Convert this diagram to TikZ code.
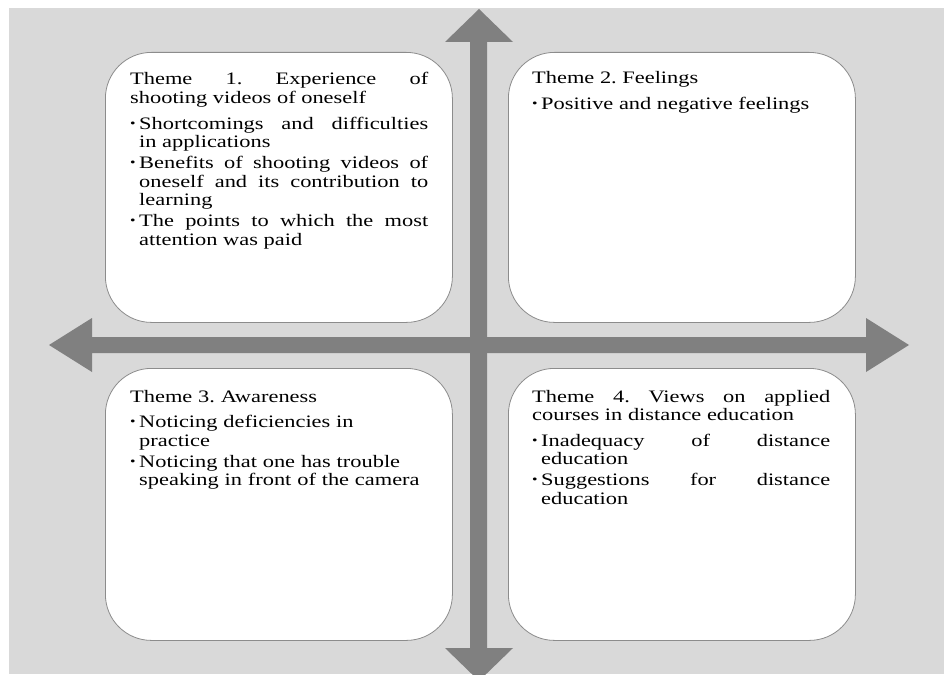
\documentclass[tikz,border=0pt]{standalone}
\usepackage{fontspec}
\setmainfont{Liberation Serif}
\newfontfamily\themefont[FakeStretch=1.28]{Liberation Serif}
\definecolor{bggray}{HTML}{D9D9D9}
\definecolor{arrowgray}{HTML}{808080}
\definecolor{edgegray}{HTML}{8C8C8C}
\frenchspacing
\newcommand{\bulitem}[2][2.5pt]{\par\vspace{#1}\noindent\hangindent=9pt\hangafter=1\makebox[9pt][l]{\raisebox{0.1em}{\scalebox{0.7}{•}}}#2\par}
\tikzset{
  themebox/.style={draw=edgegray, line width=0.8pt, fill=white, rounded corners=46pt,
    minimum width=347pt, inner sep=0pt, anchor=north west},
  themetext/.style={anchor=base west, text width=298pt, inner sep=0pt, align=justify,
    font=\themefont\frenchspacing\fontsize{17.5pt}{18.5pt}\selectfont},
  arrowfill/.style={fill=arrowgray}
}
\begin{document}
\begin{tikzpicture}[x=1pt,y=-1pt]
\useasboundingbox (0,0) rectangle (944,674);
\fill[bggray] (9,8) rectangle (944,674);
% axes (double-headed block arrows)
\fill[arrowfill] (470,42) -- (445,42) -- (479,9) -- (513,42) -- (487,42) -- (487,648)
  -- (513,648) -- (479,681) -- (445,648) -- (470,648) -- cycle;
\fill[arrowfill] (92,337) -- (92,318) -- (49,345) -- (92,372) -- (92,353) -- (866,353)
  -- (866,372) -- (909,345) -- (866,318) -- (866,337) -- cycle;
% boxes
\node[themebox, minimum height=270pt] (box1) at (105,52) {};
\node[themebox, minimum height=270pt] (box2) at (508,52) {};
\node[themebox, minimum height=272pt] (box3) at (105,368) {};
\node[themebox, minimum height=272pt] (box4) at (508,368) {};
% texts
\node[themetext] (t1) at (130,85) {Theme 1. Experience of\linebreak shooting videos of oneself
  \bulitem[7pt]{Shortcomings and difficulties\linebreak in applications}
  \bulitem{Benefits of shooting videos of\linebreak oneself and its contribution to\linebreak learning}
  \bulitem{The points to which the most\linebreak attention was paid}};
\node[themetext] (t2) at (532,84) {Theme 2. Feelings
  \bulitem[7pt]{Positive and negative feelings}};
\node[themetext, align=left] (t3) at (130,402) {Theme 3. Awareness
  \bulitem[7pt]{Noticing deficiencies in\newline practice}
  \bulitem{Noticing that one has trouble\newline speaking in front of the camera}};
\node[themetext] (t4) at (532,402) {Theme 4. Views on applied\linebreak courses in distance education
  \bulitem[7pt]{Inadequacy of distance\linebreak education}
  \bulitem{Suggestions for distance\linebreak education}};
\end{tikzpicture}
\end{document}
